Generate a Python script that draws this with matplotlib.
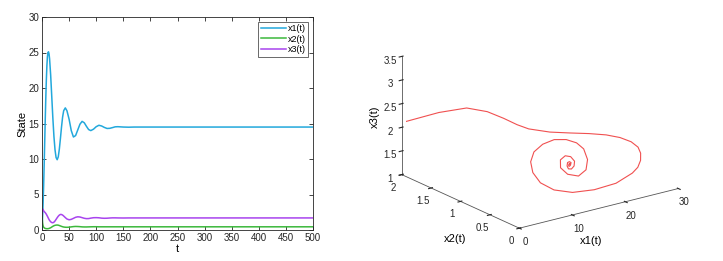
import numpy as np
import matplotlib
matplotlib.use("Agg")
import matplotlib.pyplot as plt

# ---- data ----
t = [0, 0.5, 1, 1.5, 2, 2.5, 3,
     4, 5, 6, 7, 8, 9, 10, 11, 12, 13, 14,
     16, 18, 20, 22, 24, 26, 28, 30, 32, 34, 36, 38, 40,
     43, 46,
     50, 54, 58, 62, 66, 70, 74, 78, 82, 86, 90,
     95, 100, 105, 110, 115, 120, 125, 130, 135, 140,
     150, 160, 170, 180, 200, 250, 300, 400, 500]
x1 = [0.3, 0.9, 1.7, 2.6, 3.7, 4.9, 6.2,
      9.2, 12.4, 15.6, 18.6, 21.1, 23.1, 24.4, 25.0, 25.1, 24.8, 24.1,
      21.8, 18.8, 15.8, 13.2, 11.3, 10.2, 9.9, 10.3, 11.4, 12.9, 14.5, 15.9, 16.8,
      17.2, 16.8,
      15.6, 14.0, 13.1, 13.3, 14.1, 14.9, 15.3, 15.1, 14.6, 14.15, 14.0,
      14.2, 14.55, 14.75, 14.65, 14.45, 14.3, 14.32, 14.42, 14.53, 14.55,
      14.5, 14.48, 14.5, 14.5, 14.5, 14.5, 14.5, 14.5, 14.5]
x2 = [2.0, 1.45, 1.05, 0.78, 0.6, 0.48, 0.4,
      0.31, 0.26, 0.22, 0.2, 0.19, 0.18, 0.18, 0.19, 0.2, 0.22, 0.25,
      0.32, 0.42, 0.52, 0.6, 0.66, 0.69, 0.7, 0.68, 0.63, 0.57, 0.51, 0.46, 0.42,
      0.39, 0.38,
      0.4, 0.44, 0.48, 0.5, 0.49, 0.47, 0.44, 0.43, 0.43, 0.44, 0.45,
      0.46, 0.46, 0.45, 0.45, 0.45, 0.45, 0.45, 0.45, 0.45, 0.45,
      0.45, 0.45, 0.45, 0.45, 0.45, 0.45, 0.45, 0.45, 0.45]
x3 = [2.1, 2.6, 2.9, 2.95, 2.88, 2.78, 2.7,
      2.6, 2.52, 2.44, 2.34, 2.22, 2.08, 1.93, 1.78, 1.62, 1.47, 1.35,
      1.16, 1.05, 1.02, 1.1, 1.27, 1.5, 1.73, 1.94, 2.1, 2.19, 2.18, 2.1, 1.97,
      1.75, 1.55,
      1.44, 1.5, 1.64, 1.79, 1.86, 1.83, 1.74, 1.65, 1.6, 1.61, 1.67,
      1.73, 1.74, 1.72, 1.67, 1.65, 1.66, 1.69, 1.71, 1.71, 1.7,
      1.69, 1.7, 1.7, 1.7, 1.7, 1.7, 1.7, 1.7, 1.7]
series_labels = ["x1(t)", "x2(t)", "x3(t)"]
series_colors = ["#22A8DC", "#3CB83C", "#A844EE"]
t_ticks = [0, 50, 100, 150, 200, 250, 300, 350, 400, 450, 500]
state_ticks = [0, 5, 10, 15, 20, 25, 30]
x1_ticks = [0, 10, 20, 30]
x2_ticks = [0, 0.5, 1, 1.5, 2]
x3_ticks = [1, 1.5, 2, 2.5, 3, 3.5]

plt.rcParams['font.family'] = ['Liberation Sans', 'DejaVu Sans']
FS = 7

fig = plt.figure(figsize=(7.23, 2.61), dpi=100)

# ---- left: time series ----
ax = fig.add_axes([42/723, 31/261, 271/723, 213/261])
for ys, lab, c in zip([x1, x2, x3], series_labels, series_colors):
    ax.plot(t, ys, color=c, lw=1.1, label=lab)
ax.set_xlim(0, 500)
ax.set_ylim(0, 30)
ax.set_xticks(t_ticks)
ax.set_yticks(state_ticks)
ax.tick_params(direction='in', top=True, right=True, labelsize=FS, length=3,
               width=0.6, colors='#262626', pad=2)
for s in ax.spines.values():
    s.set_linewidth(0.6)
    s.set_color('#262626')
ax.set_xlabel('t', fontsize=FS + 1, labelpad=1)
ax.set_ylabel('State', fontsize=FS + 1, labelpad=1)
leg = ax.legend(loc='upper right', fontsize=FS - 0.5, frameon=True, fancybox=False,
                edgecolor='#262626', handlelength=2.8, handletextpad=0.2,
                borderpad=0.3, labelspacing=0.15, borderaxespad=0.5)
leg.get_frame().set_linewidth(0.6)

# ---- right: 3D trajectory ----
ax3 = fig.add_axes([364/723, 4.5/261, 345/723, 1.0], projection='3d')
ax3.plot(x1, x2, x3, color='#F05050', lw=0.8)
ax3.set_xlim(0, 30)
ax3.set_ylim(0, 2)
ax3.set_zlim(1, 3.5)
ax3.set_xticks(x1_ticks)
ax3.set_yticks(x2_ticks)
ax3.set_zticks(x3_ticks)
ax3.set_xticklabels([str(v) for v in x1_ticks])
ax3.set_yticklabels(['0', '0.5', '1', '1.5', '2'])
ax3.set_zticklabels(['1', '1.5', '2', '2.5', '3', '3.5'])
ax3.set_proj_type('ortho')
ax3.view_init(elev=19.7, azim=-126.5)
ax3.set_box_aspect((1, 1, 0.635), zoom=1.14)
ax3.grid(False)
for a in (ax3.xaxis, ax3.yaxis, ax3.zaxis):
    a.pane.set_visible(False)
    a.line.set_color('#555555')
    a.line.set_linewidth(0.6)
ax3.tick_params(labelsize=FS, colors='#262626')
ax3.xaxis.set_tick_params(pad=-3)
ax3.yaxis.set_tick_params(pad=-3)
ax3.zaxis.set_tick_params(pad=-4)
fig.text(591/723, 1 - 241/261, 'x1(t)', fontsize=FS + 1, ha='center', va='center')
fig.text(455/723, 1 - 239/261, 'x2(t)', fontsize=FS + 1, ha='center', va='center')
fig.text(375/723, 1 - 117/261, 'x3(t)', fontsize=FS + 1, ha='center', va='center',
         rotation=90)

fig.savefig('out.png', dpi=100)
